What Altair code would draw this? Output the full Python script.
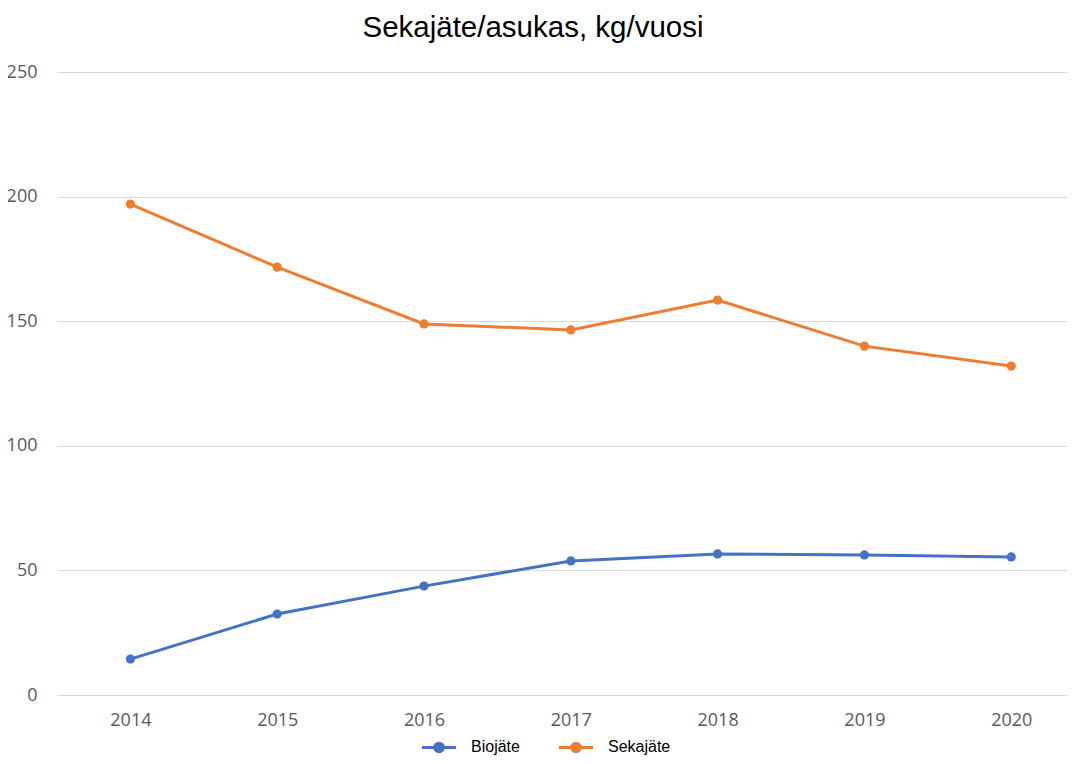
import altair as alt
import pandas as pd

years = [2014, 2015, 2016, 2017, 2018, 2019, 2020]
biojate = [14.4, 32.5, 43.7, 53.8, 56.6, 56.2, 55.4]
sekajate = [197.0, 171.7, 148.9, 146.5, 158.5, 140.0, 132.0]
series_names = ["Biojäte", "Sekajäte"]
series_colors = ["#4472C4", "#ED7D31"]
y_ticks = [0, 50, 100, 150, 200, 250]

rows = []
for i, y in enumerate(years):
    rows.append({"year": y, "series": series_names[0], "value": biojate[i]})
    rows.append({"year": y, "series": series_names[1], "value": sekajate[i]})
df = pd.DataFrame(rows)

# legend glyph: a line with a dot in the middle
legend_path = "M-2,0L2,0M-0.5,0a0.5,0.5 0 1,0 1,0a0.5,0.5 0 1,0 -1,0"

color = alt.Color(
    "series:N",
    scale=alt.Scale(domain=series_names, range=series_colors),
    legend=alt.Legend(
        title=None,
        orient="none",
        legendX=372,
        legendY=665,
        direction="horizontal",
        symbolType=legend_path,
        symbolSize=289,
        symbolStrokeWidth=3,
        labelFont="Liberation Sans",
        labelFontSize=16,
        labelColor="#000000",
        columnPadding=33,
        labelOffset=22,
    ),
)

x = alt.X(
    "year:Q",
    scale=alt.Scale(domain=[2013.5, 2020.38], nice=False, zero=False),
    axis=alt.Axis(
        values=years,
        format="d",
        title=None,
        grid=False,
        domain=False,
        ticks=False,
        labelPadding=16,
        labelFont="Open Sans",
        labelFontSize=18,
        labelColor="#595959",
    ),
)
y = alt.Y(
    "value:Q",
    scale=alt.Scale(domain=[0, 250], nice=False),
    axis=alt.Axis(
        values=y_ticks,
        title=None,
        domain=False,
        ticks=False,
        gridColor="#D9D9D9",
        gridWidth=1,
        labelPadding=20,
        labelFont="Open Sans",
        labelFontSize=18,
        labelColor="#595959",
    ),
)

base = alt.Chart(df).encode(x=x, y=y, color=color)
lines = base.mark_line(strokeWidth=3)
points = base.mark_circle(size=85, opacity=1)

chart = (
    alt.layer(lines, points)
    .properties(
        width=1010,
        height=623,
        title=alt.TitleParams(
            "Sekajäte/asukas, kg/vuosi",
            font="Liberation Sans",
            fontSize=29.5,
            fontWeight="normal",
            color="#000000",
            anchor="middle",
            dx=-29,
            offset=20,
        ),
        autosize=alt.AutoSizeParams(type="none"),
        padding={"left": 49, "top": 64, "right": 0, "bottom": 62},
    )
    .configure_view(stroke=None)
)

chart.save("out.html", embed_options={"renderer": "svg", "actions": False})
